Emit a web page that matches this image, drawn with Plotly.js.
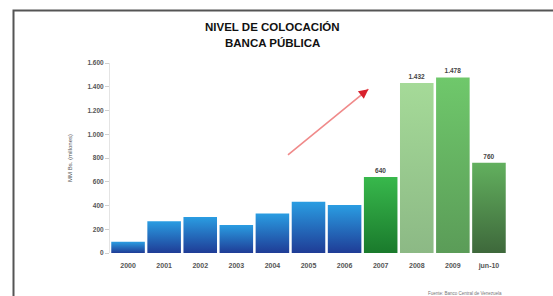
<!DOCTYPE html>
<html>
<head>
<meta charset="utf-8">
<script src="https://cdn.plot.ly/plotly-3.0.1.min.js"></script>
<style>html,body{margin:0;padding:0;background:#fff;}#chart{width:553px;height:296px;}</style>
</head>
<body>
<div id="chart"></div>
<script>
// ---- data ----
const categories = ["2000","2001","2002","2003","2004","2005","2006","2007","2008","2009","jun-10"];
const values = [95, 268, 304, 236, 333, 432, 404, 640, 1432, 1478, 760];
const labelledFrom = 7; // bars from 2007 on carry a value label
const yTickVals = [0, 200, 400, 600, 800, 1000, 1200, 1400, 1600];
const titleLines = ["NIVEL DE COLOCACIÓN", "BANCA PÚBLICA"];
const yTitle = "MM Bs. (millones)";
const sourceNote = "Fuente: Banco Central de Venezuela";

// colour pairs (top, bottom) per bar
const gradTop = ["#2a9de2","#2a9de2","#2a9de2","#2a9de2","#2a9de2","#2a9de2","#2a9de2","#38b84c","#a5da98","#6fc86b","#62b05e"];
const gradBot = ["#1f3c96","#1f3c96","#1f3c96","#1f3c96","#1f3c96","#1f3c96","#1f3c96","#1a7a2c","#8cb985","#5b9c58","#3e683b"];
const solid = ["#2670c8","#2670c8","#2670c8","#2670c8","#2670c8","#2670c8","#2670c8","#2b9a3c","#9ccf90","#66b763","#4f8c4b"];

const texttemplate = values.map((v,i)=> i>=labelledFrom ? "%{y:,}" : "");

const trace = {
  type: "bar",
  x: categories,
  y: values,
  marker: {color: solid, line: {width: 0}},
  texttemplate: texttemplate,
  textposition: "outside",
  cliponaxis: false,
  textfont: {family: "Liberation Sans, Arial, sans-serif", size: 6.5, color: "#444", weight: "bold"},
  hoverinfo: "none"
};

const L = 110, R = 46, T = 63, B = 43;
const W = 553, H = 296;
const pw = W - L - R, ph = H - T - B;
const px2x = p => (p - L) / pw;
const py2y = p => (H - B - p) / ph;

const layout = {
  width: W, height: H,
  margin: {l: L, r: R, t: T, b: B, pad: 0},
  paper_bgcolor: "#fff", plot_bgcolor: "#fff",
  showlegend: false,
  separators: ",.",
  bargap: 0.07,
  font: {family: "Liberation Sans, Arial, sans-serif", color: "#333"},
  xaxis: {
    type: "category",
    range: [-0.5, 10.5],
    showgrid: false, zeroline: false,
    showline: false,
    ticks: "",
    tickfont: {size: 7, color: "#555", weight: "bold"},
    ticklabelstandoff: 7
  },
  yaxis: {
    range: [0, 1600],
    tickvals: yTickVals,
    tickformat: ",d",
    showgrid: false, zeroline: false,
    showline: true, linecolor: "#e4e4e4", linewidth: 1,
    ticks: "outside", ticklen: 4, tickcolor: "#cfcfcf",
    tickfont: {size: 6.5, color: "#555", weight: "bold"},
    title: {text: yTitle, font: {size: 6, color: "#555"}, standoff: 14}
  },
  annotations: [
    {xref: "paper", yref: "paper", x: px2x(272), y: py2y(27), text: titleLines[0], showarrow: false,
     font: {size: 11.5, color: "#111", weight: "bold"}, xanchor: "center", yanchor: "middle"},
    {xref: "paper", yref: "paper", x: px2x(272), y: py2y(43), text: titleLines[1], showarrow: false,
     font: {size: 11.5, color: "#111", weight: "bold"}, xanchor: "center", yanchor: "middle"},
    {xref: "paper", yref: "paper", x: px2x(504), y: py2y(293), text: sourceNote, showarrow: false,
     font: {size: 4.5, color: "#777"}, xanchor: "right", yanchor: "middle"},
    // arrow body
    {xref: "x", yref: "y", axref: "x", ayref: "y", x: 6.66, y: 1380, ax: 4.39, ay: 815,
     text: "", showarrow: true, arrowhead: 0, arrowwidth: 1.6, arrowcolor: "#f08a8a"},
    // arrow head
    {xref: "x", yref: "y", axref: "x", ayref: "y", x: 6.66, y: 1380, ax: 6.45, ay: 1330,
     text: "", showarrow: true, arrowhead: 2, arrowsize: 1.2, arrowwidth: 1.6, arrowcolor: "#d8202c"}
  ],
  shapes: [
    {type: "rect", xref: "paper", yref: "paper",
     x0: px2x(13.5), x1: px2x(600), y0: py2y(10.5), y1: py2y(340),
     line: {color: "#555", width: 2}, fillcolor: "rgba(0,0,0,0)", layer: "above"}
  ]
};

Plotly.newPlot("chart", [trace], layout, {displayModeBar: false, staticPlot: true}).then(gd => {
  const svg = gd.querySelector("svg.main-svg");
  let defs = svg.querySelector("defs");
  const NS = "http://www.w3.org/2000/svg";
  const paths = gd.querySelectorAll(".trace.bars .point path");
  paths.forEach((p, i) => {
    const g = document.createElementNS(NS, "linearGradient");
    g.setAttribute("id", "bargrad" + i);
    g.setAttribute("x1", "0"); g.setAttribute("y1", "0");
    g.setAttribute("x2", "0"); g.setAttribute("y2", "1");
    const s1 = document.createElementNS(NS, "stop");
    s1.setAttribute("offset", "0"); s1.setAttribute("stop-color", gradTop[i]);
    const s2 = document.createElementNS(NS, "stop");
    s2.setAttribute("offset", "1"); s2.setAttribute("stop-color", gradBot[i]);
    g.appendChild(s1); g.appendChild(s2);
    defs.appendChild(g);
    p.style.fill = "url(#bargrad" + i + ")";
  });
});
</script>
</body>
</html>
